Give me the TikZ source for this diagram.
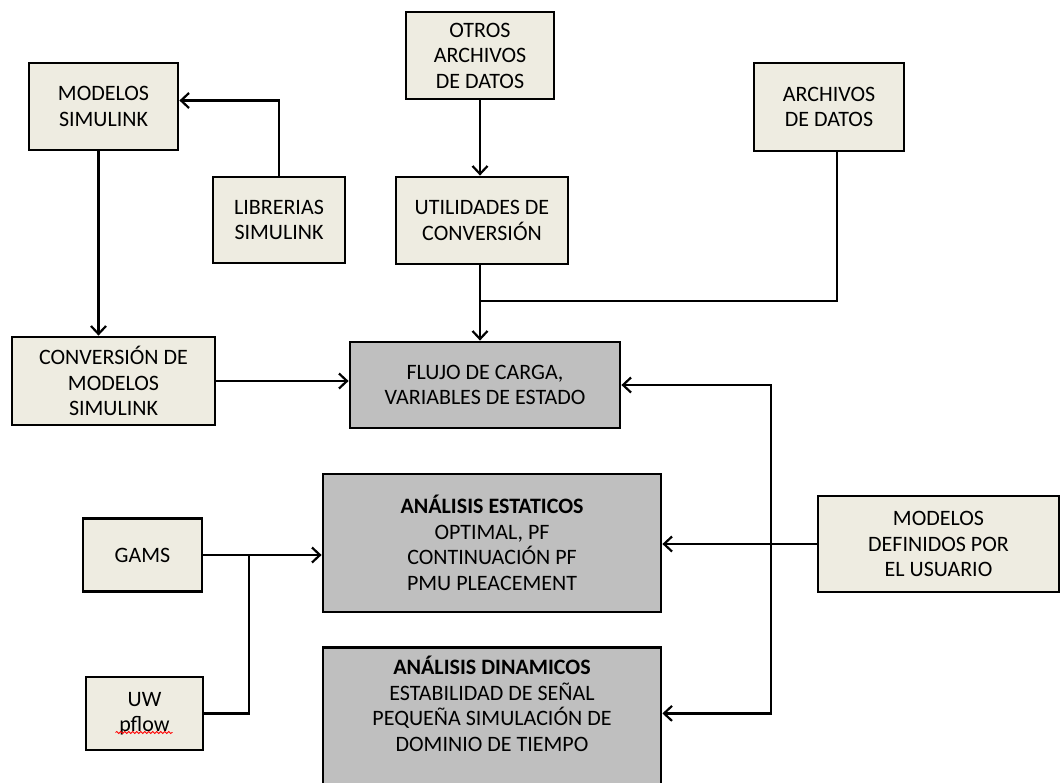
\documentclass[tikz,border=0pt]{standalone}
\usepackage{fontspec}
\setmainfont{Carlito}
\usetikzlibrary{arrows.meta,decorations.pathmorphing}

\definecolor{beige}{HTML}{EEECE1}
\definecolor{gris}{HTML}{BFBFBF}

\tikzstyle{txt} = [style={align=center,inner sep=0pt,font=\fontsize{22}{25.5}\selectfont}]
\tikzstyle{blk} = [style={txt,rectangle,draw,line width=2.8pt,fill=beige}]
\tikzstyle{anl} = [style={blk,fill=gris}]
\tikzstyle{con} = [style={line width=2.2pt}]
\tikzstyle{arr} = [style={con,-{Straight Barb[length=8pt,width=15pt]}}]

\begin{document}
\begin{tikzpicture}[x=1pt,y=-1pt]
\useasboundingbox (0,0) rectangle (1062,782);
\clip (0,0) rectangle (1062,782);

%% entradas
\node [blk, minimum width=149, minimum height=87] (msim)  at (103.5,106.5) {MODELOS\\SIMULINK};
\node [blk, minimum width=132, minimum height=86] (lsim)  at (279,220)     {LIBRERIAS\\SIMULINK};
\node [blk, minimum width=148, minimum height=87] (otros) at (480,55.5)    {OTROS\\ARCHIVOS\\DE DATOS};
\node [blk, minimum width=172, minimum height=87] (util)  at (482,220.5)   {UTILIDADES DE\\CONVERSIÓN};
\node [blk, minimum width=150, minimum height=88] (arch)  at (829,107)     {ARCHIVOS\\DE DATOS};
\node [blk, minimum width=203, minimum height=88] (conv)  at (113.5,381)   {CONVERSIÓN DE\\MODELOS\\SIMULINK};
\node [blk, minimum width=119, minimum height=73] (gams)  at (142.5,555)   {GAMS};
\node [blk, minimum width=117, minimum height=73] (uw)    at (144.5,713.5) {UW\\pflow};
\node [blk, minimum width=241, minimum height=96] (mdef)  at (938.5,544)   {MODELOS\\DEFINIDOS POR\\EL USUARIO};

%% analisis
\node [anl, minimum width=270, minimum height=86]  (flujo) at (485,385) {FLUJO DE CARGA,\\VARIABLES DE ESTADO};
\node [anl, minimum width=338, minimum height=138] (est)   at (492,543) {\textbf{ANÁLISIS ESTATICOS}\\OPTIMAL, PF\\CONTINUACIÓN PF\\PMU PLEACEMENT};
\node [anl, minimum width=338, minimum height=170, anchor=north] (din) at (492,646) {};
\node [txt, anchor=north] (dintxt) at ([yshift=-10pt]din.north) {\textbf{ANÁLISIS DINAMICOS}\\ESTABILIDAD DE SEÑAL\\PEQUEÑA SIMULACIÓN DE\\DOMINIO DE TIEMPO};

%% subrayado pflow
\draw [red, line width=0.8pt, decorate, decoration={snake,amplitude=1pt,segment length=4pt}]
  ([xshift=-29pt,yshift=-19pt]uw.center) -- ([xshift=28pt,yshift=-19pt]uw.center);

%% uniones
\coordinate (jarch) at (480,301);
\coordinate (jdef)  at (771,544);
\coordinate (jgams) at (249,555);

%% conexiones
\draw [arr] (lsim.north) |- ([yshift=6pt]msim.east);
\draw [arr] ([xshift=-5pt]msim.south) -- ([xshift=-5pt]msim.south |- conv.north);
\draw [arr] (otros.south) -- (otros.south |- util.north);
\draw [arr] (otros.south |- util.south) -- (otros.south |- flujo.north);
\draw [con] ([xshift=8pt]arch.south) |- (jarch);
\draw [arr] (conv.east) -- (conv.east -| flujo.west);
\draw [arr] (mdef.west) -- (mdef.west -| est.east);
\draw [arr] (jdef) |- (flujo.east);
\draw [arr] (jdef) |- ([yshift=19pt]din.east);
\draw [arr] (gams.east) -- (gams.east -| est.west);
\draw [con] (uw.east) -| (jgams);

\end{tikzpicture}
\end{document}
